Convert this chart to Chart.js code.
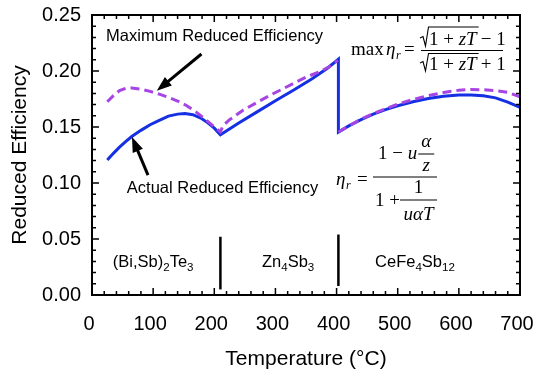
<!DOCTYPE html>
<html>
<head>
<meta charset="utf-8">
<script src="https://cdn.jsdelivr.net/npm/chart.js@4.4.0/dist/chart.umd.min.js"></script>
<style>
  html, body { margin: 0; padding: 0; background: #fff; }
</style>
</head>
<body>
<canvas id="eff" width="535" height="379"></canvas>
<script>
// values (temperature in °C, reduced efficiency)
const actT   = [25, 35, 45, 55, 65, 80, 95, 110, 125, 140, 152, 165, 178, 190, 200, 210,
                240, 270, 300, 330, 360, 385, 403,
                403, 420, 440, 460, 480, 500, 525, 550, 575, 600, 620, 640, 660, 680, 700];
const actEff = [0.1205, 0.1265, 0.132, 0.137, 0.1415, 0.147, 0.152, 0.156, 0.1597, 0.1615, 0.162, 0.161, 0.158, 0.1535, 0.149, 0.143,
                0.1535, 0.1635, 0.1735, 0.183, 0.193, 0.2025, 0.2105,
                0.1455, 0.151, 0.1565, 0.1615, 0.1655, 0.169, 0.1726, 0.1755, 0.1775, 0.1785, 0.1785, 0.1778, 0.176, 0.1722, 0.1676];

// null = break between the Zn4Sb3 and CeFe4Sb12 parts
const maxT   = [25, 35, 45, 55, 65, 80, 95, 110, 125, 140, 155, 170, 185, 198, 208,
                210, 214, 225, 247, 270, 290, 310, 330, 350, 373, 390, 402, 402.5,
                403, 420, 440, 460, 480, 500, 525, 550, 575, 600, 620, 640, 660, 680, 700];
const maxEff = [0.1725, 0.178, 0.1825, 0.1845, 0.1848, 0.1838, 0.1818, 0.1793, 0.1765, 0.1732, 0.169, 0.1635, 0.157, 0.151, 0.1465,
                0.1455, 0.151, 0.1565, 0.165, 0.172, 0.178, 0.1835, 0.189, 0.1945, 0.1995, 0.2045, 0.2095, null,
                0.1455, 0.151, 0.157, 0.162, 0.1662, 0.1705, 0.1745, 0.178, 0.1808, 0.1828, 0.1835, 0.1833, 0.1825, 0.181, 0.177];

// material boundaries
const sepT    = [210, 403];
const sepLow  = [0.005, 0.008];
const sepHigh = [0.052, 0.054];

// tick labels
const xTicks = [0, 100, 200, 300, 400, 500, 600, 700];
const yTicks = ['0.00', '0.05', '0.10', '0.15', '0.20', '0.25'];

// material names, [text, isSubscript]
const materials = [
    [['(Bi,Sb)', 0], ['2', 1], ['Te', 0], ['3', 1]],
    [['Zn', 0], ['4', 1], ['Sb', 0], ['3', 1]],
    [['CeFe', 0], ['4', 1], ['Sb', 0], ['12', 1]]
];
const materialT = [34, 278, 463];

const pts = (xs, ys) => xs.map((x, i) => ({x: x, y: ys[i]}));

const SANS = '"Liberation Sans", Arial, sans-serif';
const SERIF = '"Liberation Serif", "Times New Roman", serif';
const UP = '19px ' + SERIF, IT = 'italic 19px ' + SERIF, SUB = 'italic 12px ' + SERIF;

function arrow(ctx, x1, y1, x2, y2) {
    const a = Math.atan2(y2 - y1, x2 - x1);
    const hl = 15, hw = 5.5;
    const bx = x2 - hl * Math.cos(a), by = y2 - hl * Math.sin(a);
    ctx.lineWidth = 3;
    ctx.beginPath();
    ctx.moveTo(x1, y1);
    ctx.lineTo(bx + 3 * Math.cos(a), by + 3 * Math.sin(a));
    ctx.stroke();
    ctx.beginPath();
    ctx.moveTo(x2, y2);
    ctx.lineTo(bx + hw * Math.sin(a), by - hw * Math.cos(a));
    ctx.lineTo(bx - hw * Math.sin(a), by + hw * Math.cos(a));
    ctx.closePath();
    ctx.fill();
}

function rich(ctx, parts, x, y, size) {
    for (const p of parts) {
        ctx.font = (p[1] ? size * 0.7 : size) + 'px ' + SANS;
        ctx.fillText(p[0], x, p[1] ? y + 5.5 : y);
        x += ctx.measureText(p[0]).width;
    }
}

function txt(ctx, s, x, y, font, align) {
    ctx.font = font;
    ctx.textAlign = align || 'left';
    ctx.fillText(s, x, y);
}

// draws pieces one after another, returns end x
function seq(ctx, x, y, parts) {
    ctx.textAlign = 'left';
    for (const p of parts) {
        ctx.font = p[1];
        ctx.fillText(p[0], x, y);
        x += ctx.measureText(p[0]).width;
    }
    return x;
}

function hline(ctx, x1, x2, y, w) {
    ctx.lineWidth = w || 1;
    ctx.beginPath();
    ctx.moveTo(x1, y);
    ctx.lineTo(x2, y);
    ctx.stroke();
}

function radical(ctx, x, top, bottom, end) {
    ctx.lineWidth = 1.1;
    ctx.beginPath();
    ctx.moveTo(x, bottom - 8);
    ctx.lineTo(x + 3, bottom - 9.5);
    ctx.lineTo(x + 5.5, bottom);
    ctx.lineTo(x + 8.5, top);
    ctx.lineTo(end, top);
    ctx.stroke();
}

const decor = {
    id: 'decor',
    afterDraw(chart) {
        const ctx = chart.ctx;
        const xs = chart.scales.x, ys = chart.scales.y;
        const {left, right, top, bottom} = chart.chartArea;
        ctx.save();
        ctx.strokeStyle = '#000';
        ctx.fillStyle = '#000';

        // frame
        ctx.lineWidth = 2;
        ctx.strokeRect(left, top, right - left, bottom - top);

        // inward ticks on all four sides
        ctx.lineWidth = 1.5;
        ctx.beginPath();
        for (let v = 0; v <= 700; v += 20) {
            const px = xs.getPixelForValue(v);
            const len = v % 100 === 0 ? 7 : 4;
            ctx.moveTo(px, bottom); ctx.lineTo(px, bottom - len);
            ctx.moveTo(px, top); ctx.lineTo(px, top + len);
        }
        for (let i = 0; i <= 25; i++) {
            const py = ys.getPixelForValue(i / 100);
            const len = i % 5 === 0 ? 7 : 4;
            ctx.moveTo(left, py); ctx.lineTo(left + len, py);
            ctx.moveTo(right, py); ctx.lineTo(right - len, py);
        }
        ctx.stroke();

        // arrows
        arrow(ctx, xs.getPixelForValue(179), ys.getPixelForValue(0.2152),
                   xs.getPixelForValue(106), ys.getPixelForValue(0.1824));
        arrow(ctx, xs.getPixelForValue(91.6), ys.getPixelForValue(0.107),
                   xs.getPixelForValue(65.4), ys.getPixelForValue(0.141));

        // annotation text
        ctx.textBaseline = 'middle';
        txt(ctx, 'Maximum Reduced Efficiency', xs.getPixelForValue(23), ys.getPixelForValue(0.2306), '16.5px ' + SANS);
        txt(ctx, 'Actual Reduced Efficiency', xs.getPixelForValue(57), ys.getPixelForValue(0.0955), '16.5px ' + SANS);
        materials.forEach((m, i) => rich(ctx, m, xs.getPixelForValue(materialT[i]), ys.getPixelForValue(0.0295), 16.5));

        // formulas
        ctx.textBaseline = 'alphabetic';
        // max eta_r = (sqrt(1+zT) - 1) / (sqrt(1+zT) + 1)
        txt(ctx, 'max', 351, 55, UP);
        txt(ctx, 'η', 386, 55, IT);
        txt(ctx, 'r', 396, 59, SUB);
        txt(ctx, '=', 404, 55, UP);
        hline(ctx, 421, 503, 50.5);
        let e = seq(ctx, 429, 45, [['1 + ', UP], ['z', IT], ['T', IT]]);
        radical(ctx, 420, 27, 46, e + 2);
        seq(ctx, e + 4, 45, [['− 1', UP]]);
        e = seq(ctx, 429, 70, [['1 + ', UP], ['z', IT], ['T', IT]]);
        radical(ctx, 420, 53.5, 71, e + 2);
        seq(ctx, e + 4, 70, [['+ 1', UP]]);

        // eta_r = (1 - u alpha/z) / (1 + 1/(u alpha T))
        txt(ctx, 'η', 336, 185, IT);
        txt(ctx, 'r', 346, 189, SUB);
        txt(ctx, '=', 357, 185, UP);
        hline(ctx, 373, 437, 177);
        e = seq(ctx, 378, 159, [['1 − ', UP], ['u', IT]]);
        const ac = e + 9;
        txt(ctx, 'α', ac, 147, IT, 'center');
        hline(ctx, ac - 8, ac + 8, 154);
        txt(ctx, 'z', ac, 171, IT, 'center');
        seq(ctx, 375, 206, [['1 +', UP]]);
        txt(ctx, '1', 418.5, 193, UP, 'center');
        hline(ctx, 400, 437, 200);
        txt(ctx, 'uαT', 418.5, 220, IT, 'center');

        ctx.restore();
    }
};

Chart.defaults.font.family = SANS;
Chart.defaults.color = '#000';

new Chart(document.getElementById('eff'), {
    type: 'line',
    data: {
        datasets: [{
            label: 'Maximum Reduced Efficiency',
            data: pts(maxT, maxEff),
            borderColor: '#a744e4',
            borderWidth: 3,
            borderDash: [9, 5],
            pointRadius: 0,
            tension: 0,
            spanGaps: false,
            order: 0
        }, {
            label: 'Actual Reduced Efficiency',
            data: pts(actT, actEff),
            borderColor: '#1530e2',
            borderWidth: 3,
            pointRadius: 0,
            tension: 0,
            order: 1
        }, {
            label: 'boundary 1',
            data: [{x: sepT[0], y: sepLow[0]}, {x: sepT[0], y: sepHigh[0]}],
            borderColor: '#000',
            borderWidth: 2.5,
            pointRadius: 0,
            order: 2
        }, {
            label: 'boundary 2',
            data: [{x: sepT[1], y: sepLow[1]}, {x: sepT[1], y: sepHigh[1]}],
            borderColor: '#000',
            borderWidth: 2.5,
            pointRadius: 0,
            order: 2
        }]
    },
    options: {
        responsive: false,
        animation: false,
        devicePixelRatio: 1,
        layout: { padding: { top: 15, right: 15, left: 0, bottom: 0 } },
        plugins: { legend: { display: false }, tooltip: { enabled: false } },
        scales: {
            x: {
                type: 'linear',
                min: 0,
                max: 700,
                afterBuildTicks: s => { s.ticks = xTicks.map(v => ({value: v})); },
                afterFit: s => { s.height = 84; s.paddingLeft = 0; s.paddingRight = 0; },
                grid: { display: false, drawTicks: false },
                border: { display: false },
                ticks: { font: { size: 20 }, padding: 17, labelOffset: -3, callback: v => String(v) },
                title: { display: true, text: 'Temperature (°C)', font: { size: 21 }, padding: { top: 0, bottom: 7 } }
            },
            y: {
                min: 0,
                max: 0.25,
                afterBuildTicks: s => { s.ticks = yTicks.map(t => ({value: parseFloat(t)})); },
                afterFit: s => { s.width = 92; s.paddingTop = 0; s.paddingBottom = 0; },
                grid: { display: false, drawTicks: false },
                border: { display: false },
                ticks: { font: { size: 20 }, padding: 11, callback: (v, i) => yTicks[i] },
                title: { display: true, text: 'Reduced Efficiency', font: { size: 21 }, padding: { top: 8, bottom: 0 } }
            }
        }
    },
    plugins: [decor]
});
</script>
</body>
</html>
